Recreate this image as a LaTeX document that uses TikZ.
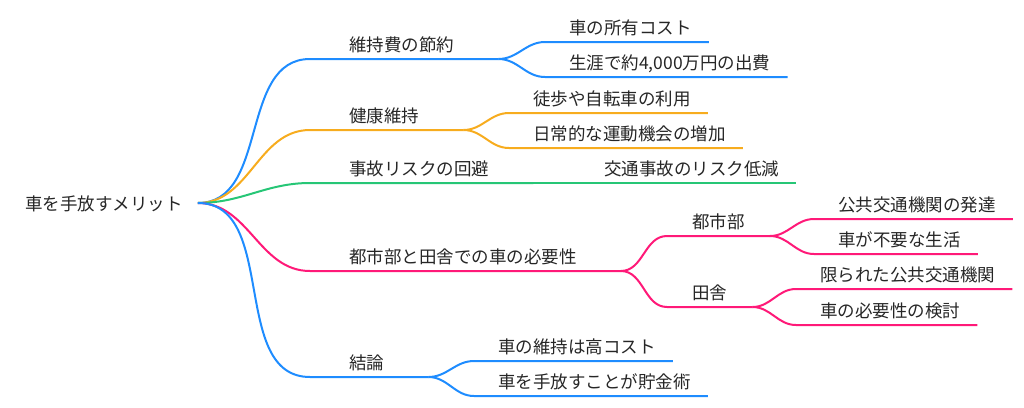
\documentclass[tikz,border=0pt]{standalone}
\usepackage{fontspec}
\setmainfont{Noto Sans CJK JP}

\definecolor{mapblue}{RGB}{30,140,255}
\definecolor{maporange}{RGB}{247,172,30}
\definecolor{mapgreen}{RGB}{38,198,118}
\definecolor{mappink}{RGB}{255,25,120}

\tikzset{
  topic/.style={inner sep=0pt, anchor=south west, text height=13pt, text depth=7.4pt,
    font=\fontsize{17.5}{20}\selectfont, text=black!85},
  link/.style={out=0, in=180, line width=2pt},
}

\begin{document}
\begin{tikzpicture}[x=1pt,y=-1pt]
\useasboundingbox (0,0) rectangle (1024,407);

% root
\node[topic, anchor=base west, text height=17.2pt, text depth=2pt] (root) at (25,210.6) {車を手放すメリット};
\coordinate (rootf) at ([xshift=15pt]root.east);

% first level
\node[topic] (cost) at (349,59) {維持費の節約};
\node[topic] (health) at (349,130) {健康維持};
\node[topic] (safety) at (349,183) {事故リスクの回避};
\node[topic] (region) at (349,271) {都市部と田舎での車の必要性};
\node[topic] (concl) at (349,377) {結論};

\coordinate (costf) at ([xshift=44pt]cost.south east);
\coordinate (healthf) at ([xshift=44pt]health.south east);
\coordinate (safetyf) at ([xshift=44pt]safety.south east);
\coordinate (regionf) at ([xshift=44pt]region.south east);
\coordinate (conclf) at ([xshift=44pt]concl.south east);

% second level
\node[topic] (own) at (569,42) {車の所有コスト};
\node[topic] (life) at (569,77) {生涯で約4,000万円の出費};
\node[topic] (walk) at (533,113) {徒歩や自転車の利用};
\node[topic] (daily) at (533,148) {日常的な運動機会の増加};
\node[topic] (crash) at (604,183) {交通事故のリスク低減};
\node[topic] (city) at (692,236) {都市部};
\node[topic] (rural) at (692,307) {田舎};
\node[topic] (high) at (498,361) {車の維持は高コスト};
\node[topic] (save) at (498,396) {車を手放すことが貯金術};

\coordinate (cityf) at ([xshift=25pt]city.south east);
\coordinate (ruralf) at ([xshift=25pt]rural.south east);

% third level
\node[topic] (transit) at (838,219) {公共交通機関の発達};
\node[topic] (nocar) at (838,254) {車が不要な生活};
\node[topic] (few) at (820,289) {限られた公共交通機関};
\node[topic] (need) at (820,325) {車の必要性の検討};

% connectors
\draw[link, mapblue] (rootf) to ([xshift=-39pt]cost.south west) -- (costf);
\draw[link, maporange] (rootf) to ([xshift=-39pt]health.south west) -- (healthf);
\draw[link, mapgreen] (rootf) to ([xshift=-39pt]safety.south west) -- (safetyf);
\draw[link, mappink] (rootf) to ([xshift=-39pt]region.south west) -- (regionf);
\draw[link, mapblue] (rootf) to ([xshift=-39pt]concl.south west) -- (conclf);

\foreach \p/\c/\col in {costf/own/mapblue, costf/life/mapblue, healthf/walk/maporange,
    healthf/daily/maporange, safetyf/crash/mapgreen, conclf/high/mapblue, conclf/save/mapblue,
    cityf/transit/mappink, cityf/nocar/mappink, ruralf/few/mappink, ruralf/need/mappink}{
  \draw[link, \col] (\p) to ([xshift=-24pt]\c.south west) -- ([xshift=17pt]\c.south east);
}

\draw[link, mappink] (regionf) to ([xshift=-25pt]city.south west) -- (cityf);
\draw[link, mappink] (regionf) to ([xshift=-25pt]rural.south west) -- (ruralf);
\end{tikzpicture}
\end{document}
